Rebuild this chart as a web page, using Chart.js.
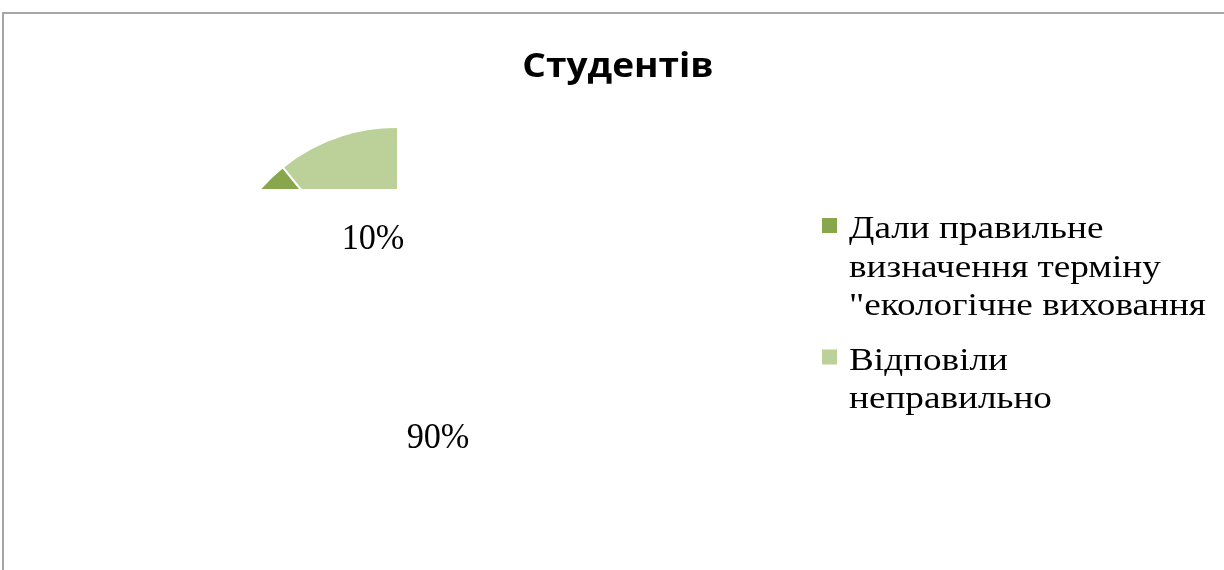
<!DOCTYPE html>
<html lang="uk">
<head>
<meta charset="UTF-8">
<title>Студентів</title>
<script src="https://cdn.jsdelivr.net/npm/chart.js@4.4.1/dist/chart.umd.min.js"></script>
<style>
  html, body { margin: 0; padding: 0; background: #fff; }
  .wrap { position: relative; width: 1224px; height: 570px; overflow: hidden; }
  /* only the top and left edges of the chart frame show in the picture */
  .frame { position: absolute; left: 2px; top: 12px; width: 1400px; height: 800px;
           border-left: 2px solid #a6a6a6; border-top: 2px solid #a6a6a6; }
  canvas { position: absolute; left: 0; top: 0; }
</style>
</head>
<body>
<div class="wrap">
  <div class="frame"></div>
  <canvas id="pie" width="1224" height="570"></canvas>
</div>
<script>
var chartTitle = 'Студентів';
var categories = [
  ['Дали правильне', 'визначення терміну', '"екологічне виховання'],
  ['Відповіли', 'неправильно']
];
var values = [10, 90];
var colors = ['#88a64b', '#bcd09a'];

// text in the original is a bit stretched sideways, so draw it with a scaleX
function stretchedText(ctx, txt, x, y, sx) {
  ctx.save();
  ctx.translate(x, y);
  ctx.scale(sx, 1);
  ctx.fillText(txt, 0, 0);
  ctx.restore();
}

// the original only shows a cut-off piece of the pie
var clipArea = {
  id: 'clipArea',
  beforeDatasetsDraw: function (chart, args, opts) {
    var ctx = chart.ctx;
    ctx.save();
    ctx.beginPath();
    ctx.rect(opts.left, opts.top, opts.right - opts.left, opts.bottom - opts.top);
    ctx.clip();
  },
  afterDatasetsDraw: function (chart) {
    chart.ctx.restore();
  }
};

var sliceLabels = {
  id: 'sliceLabels',
  afterDraw: function (chart, args, opts) {
    var ctx = chart.ctx;
    var data = chart.data.datasets[0].data;
    var total = data.reduce(function (a, b) { return a + b; }, 0);
    ctx.save();
    ctx.font = opts.font;
    ctx.fillStyle = opts.color;
    ctx.textAlign = 'center';
    ctx.textBaseline = 'alphabetic';
    chart.getDatasetMeta(0).data.forEach(function (arc, i) {
      var txt = Math.round(data[i] / total * 100) + '%';
      stretchedText(ctx, txt, arc.x + opts.offsets[i][0], arc.y + opts.offsets[i][1], opts.scaleX);
    });
    ctx.restore();
  }
};

var headline = {
  id: 'headline',
  afterDraw: function (chart, args, opts) {
    var ctx = chart.ctx;
    ctx.save();
    ctx.font = opts.font;
    ctx.fillStyle = opts.color;
    ctx.textAlign = 'center';
    ctx.textBaseline = 'alphabetic';
    stretchedText(ctx, opts.text, opts.x, opts.y, opts.scaleX);
    ctx.restore();
  }
};

var sideLegend = {
  id: 'sideLegend',
  afterDraw: function (chart, args, opts) {
    var ctx = chart.ctx;
    var y = opts.y;
    ctx.save();
    ctx.font = opts.font;
    ctx.textAlign = 'left';
    ctx.textBaseline = 'alphabetic';
    chart.data.labels.forEach(function (lines, i) {
      ctx.fillStyle = chart.data.datasets[0].backgroundColor[i];
      ctx.fillRect(opts.x, y - opts.boxTop, opts.box, opts.box);
      ctx.fillStyle = opts.color;
      lines.forEach(function (line, j) {
        stretchedText(ctx, line, opts.x + opts.textGap, y + j * opts.lineHeight, opts.scaleX);
      });
      y += lines.length * opts.lineHeight + opts.itemGap;
    });
    ctx.restore();
  }
};

new Chart(document.getElementById('pie'), {
  type: 'pie',
  data: {
    labels: categories,
    datasets: [{
      data: values,
      backgroundColor: colors,
      borderColor: '#ffffff',
      borderWidth: 2
    }]
  },
  options: {
    responsive: false,
    animation: false,
    rotation: -75,
    radius: 180,
    layout: { padding: { left: 0, right: 432, top: 44, bottom: 0 } },
    plugins: {
      legend: { display: false },
      tooltip: { enabled: false },
      title: { display: false },
      clipArea: { left: 0, top: 0, right: 397, bottom: 189 },
      sliceLabels: {
        font: '36px "Liberation Serif"',
        color: '#000',
        scaleX: 0.95,
        offsets: [[-23, -58], [42, 141]]
      },
      headline: {
        text: chartTitle,
        font: 'bold 34px "Open Sans"',
        color: '#000',
        scaleX: 1.09,
        x: 618,
        y: 77
      },
      sideLegend: {
        font: '31px "Liberation Serif"',
        color: '#000',
        scaleX: 1.2,
        x: 822,
        y: 238,
        box: 15,
        boxTop: 20,
        textGap: 27,
        lineHeight: 38.5,
        itemGap: 16
      }
    }
  },
  plugins: [clipArea, sliceLabels, headline, sideLegend]
});
</script>
</body>
</html>
